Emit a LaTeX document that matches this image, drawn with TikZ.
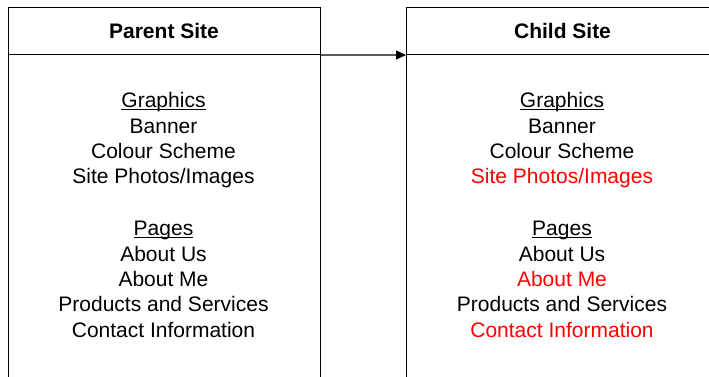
\documentclass[tikz,border=0pt]{standalone}
\usepackage{fontspec}
\setmainfont{Liberation Sans}
\usetikzlibrary{arrows.meta}
\tikzset{
  boxline/.style={draw=black, line width=1pt},
  headbox/.style={boxline, minimum width=312pt, minimum height=46.5pt, anchor=north west, inner sep=0pt, font=\fontsize{21pt}{25.4pt}\selectfont\bfseries},
  bodybox/.style={boxline, minimum width=312pt, minimum height=346pt, anchor=north west, inner sep=0pt},
  txt/.style={anchor=base, inner sep=0pt, font=\fontsize{21pt}{25.4pt}\selectfont},
  chg/.style={txt, text={rgb,255:red,255;green,0;blue,0}},
  uline/.style={line width=1.1pt},
  link/.style={line width=1.4pt, draw=black!65, -{Triangle[length=10pt,width=9pt,color=black]}}
}
\begin{document}
\begin{tikzpicture}[x=1pt,y=1pt]
\useasboundingbox (0,0) rectangle (709,-377);
\clip (0,0) rectangle (709,-377);
% parent
\node[headbox] (ph) at (7.5,-7.5) {Parent Site};
\node[bodybox] (pb) at (7.5,-54) {};
\node[txt] (pg) at (163.5,-107.7) {Graphics};
\node[txt] (p1) at (163.5,-133.1) {Banner};
\node[txt] (p2) at (163.5,-158.5) {Colour Scheme};
\node[txt] (p3) at (163.5,-183.9) {Site Photos/Images};
\node[txt] (pp) at (163.5,-235.7) {Pages};
\node[txt] (p4) at (163.5,-261.1) {About Us};
\node[txt] (p5) at (163.5,-286.5) {About Me};
\node[txt] (p6) at (163.5,-311.9) {Products and Services};
\node[txt] (p7) at (163.5,-337.3) {Contact Information};
\draw[uline] ([yshift=-1.8pt]pg.base west) -- ([yshift=-1.8pt]pg.base east);
\draw[uline] ([yshift=-1.8pt]pp.base west) -- ([yshift=-1.8pt]pp.base east);
% child
\node[headbox] (ch) at (406,-7.5) {Child Site};
\node[bodybox] (cb) at (406,-54) {};
\node[txt] (cg) at (562,-107.7) {Graphics};
\node[txt] (c1) at (562,-133.1) {Banner};
\node[txt] (c2) at (562,-158.5) {Colour Scheme};
\node[chg] (c3) at (562,-183.9) {Site Photos/Images};
\node[txt] (cp) at (562,-235.7) {Pages};
\node[txt] (c4) at (562,-261.1) {About Us};
\node[chg] (c5) at (562,-286.5) {About Me};
\node[txt] (c6) at (562,-311.9) {Products and Services};
\node[chg] (c7) at (562,-337.3) {Contact Information};
\draw[uline] ([yshift=-1.8pt]cg.base west) -- ([yshift=-1.8pt]cg.base east);
\draw[uline] ([yshift=-1.8pt]cp.base west) -- ([yshift=-1.8pt]cp.base east);
% connector
\draw[link] (ph.south east) -- (ch.south west);
\end{tikzpicture}
\end{document}
